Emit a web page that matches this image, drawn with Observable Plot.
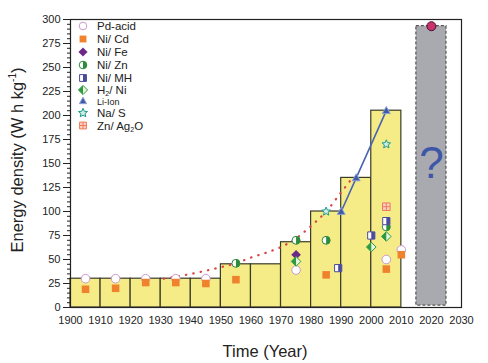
<!DOCTYPE html>
<html>
<head>
<meta charset="utf-8">
<script src="https://cdn.jsdelivr.net/npm/d3@7"></script>
<script src="https://cdn.jsdelivr.net/npm/@observablehq/plot@0.6"></script>
<style>
  html, body { margin: 0; padding: 0; background: #fff; }
  #chart { position: relative; width: 488px; height: 363px; font-family: "Liberation Sans", Arial, sans-serif; }
</style>
</head>
<body>
<div id="chart"></div>
<script>
// ---- data ----
const barStart = [1900, 1910, 1920, 1930, 1940, 1950, 1960, 1970, 1980, 1990, 2000];
const barEnergy = [30, 30, 30, 30, 30, 45, 45, 68, 100, 135, 205];
const futureStart = 2015, futureEnd = 2025, futureEnergy = 293;
const futurePoint = [[2020, 293]];
const questionMark = [[2020, 150, "?"]];

const pdAcid = [[1905,30],[1915,30],[1925,30],[1935,30],[1945,30],[1975,39],[2005,50],[2010,60]];
const niCd   = [[1905,19],[1915,20],[1925,26],[1935,26],[1945,25],[1955,29],[1985,34],[2005,40],[2010,55]];
const niFe   = [[1975,55]];
const niZn   = [[1955,46],[1975,70],[1985,70],[2005,84]];
const niMH   = [[1989,41],[2000,75],[2005,90]];
const h2Ni   = [[1975,48],[2000,63],[2005,74]];
const liIon  = [[1990,100],[1995,135],[2005,205]];
const naS    = [[1985,100],[2005,170]];
const znAg2O = [[2005,105]];
const trend  = [[1931,30],[1940,35],[1950,42],[1955,46],[1960,52],[1965,57],[1970,63],[1975,72],[1980,85],[1985,100],[1990,120],[1993,132]];

const xTicks = d3.range(1900, 2031, 10);
const yTicks = d3.range(0, 301, 25);
const yMinor = d3.range(0, 301, 5);

// ---- custom symbols ----
const halfCircleRight = {draw(c, size){const r=Math.sqrt(size/Math.PI); c.moveTo(0,-r); c.arc(0,0,r,-Math.PI/2,Math.PI/2); c.closePath();}};
const squareSym = {draw(c, size){const s=Math.sqrt(size/Math.PI)*0.9; c.rect(-s,-s,2*s,2*s);}};
const halfSquareRight = {draw(c, size){const s=Math.sqrt(size/Math.PI)*0.9; c.rect(0,-s,s,2*s);}};
const diamondFull = {draw(c, size){const r=Math.sqrt(size/Math.PI)*1.2; c.moveTo(0,-r); c.lineTo(r,0); c.lineTo(0,r); c.lineTo(-r,0); c.closePath();}};
const halfDiamondLeft = {draw(c, size){const r=Math.sqrt(size/Math.PI)*1.2; c.moveTo(0,-r); c.lineTo(-r,0); c.lineTo(0,r); c.closePath();}};
const crossSquare = {draw(c, size){const s=Math.sqrt(size/Math.PI)*0.9; c.rect(-s,-s,2*s,2*s); c.moveTo(-s,0); c.lineTo(s,0); c.moveTo(0,-s); c.lineTo(0,s);}};
const triSym = {draw(c, size){const r=Math.sqrt(size/Math.PI)*1.15; c.moveTo(0,-r); c.lineTo(r*0.95,r*0.7); c.lineTo(-r*0.95,r*0.7); c.closePath();}};
const starSym = {draw(c, size){const R=Math.sqrt(size/Math.PI)*1.25, r=R*0.45; for(let k=0;k<10;k++){const a=-Math.PI/2+k*Math.PI/5, rr=k%2?r:R; const px=rr*Math.cos(a), py=rr*Math.sin(a); if(k) c.lineTo(px,py); else c.moveTo(px,py);} c.closePath();}};

const C = {
  pd: "#c99ac9", cd: "#f0822e", fe: "#6b2a86", zn: "#2e8b3c", mh: "#4b4b9e",
  h2: "#2e9a3e", li: "#3f5aa8", na: "#1e9a8a", ag: "#ee7a5a", bar: "#f5ec88"
};

const bars = barStart.map((s, i) => ({x1: s, x2: s + 10, y: barEnergy[i]}));
const pts = a => a.map(([x, y]) => ({x, y}));

const dots = (data, sym, fill, stroke, r, extra={}) => Plot.dot(pts(data), {x: "x", y: "y", symbol: sym, fill, stroke, r, strokeWidth: 1, ...extra});

const plot = Plot.plot({
  width: 488, height: 363,
  marginLeft: 70, marginRight: 27, marginTop: 19, marginBottom: 56,
  style: {fontFamily: "Liberation Sans, Arial, sans-serif", fontSize: "11px", background: "#fff", color: "#222"},
  x: {type: "linear", domain: [1900, 2030]},
  y: {domain: [0, 300]},
  marks: [
    Plot.rect(bars, {x1: "x1", x2: "x2", y1: 0, y2: "y", fill: C.bar, stroke: "#3b3b2a", strokeWidth: 1.2}),
    Plot.rect([{x1: futureStart, x2: futureEnd, y: futureEnergy}], {x1: "x1", x2: "x2", y1: 2, y2: "y", fill: "#a9a9b0", stroke: "#555", strokeWidth: 1.2, strokeDasharray: "3,2"}),
    Plot.text(questionMark.map(([x, y, t]) => ({x, y, t})), {x: "x", y: "y", text: "t", fontSize: 44, fill: "#3d56a8", fontFamily: "Liberation Sans, Arial, sans-serif"}),
    Plot.line(pts(trend), {x: "x", y: "y", curve: "monotone-x", stroke: "#d84545", strokeWidth: 2.2, strokeDasharray: "0.5,7", strokeLinecap: "round"}),
    Plot.line(pts(liIon), {x: "x", y: "y", stroke: "#4a64b2", strokeWidth: 1.6}),
    dots(pdAcid, "circle", "#fff", C.pd, 4.3),
    dots(niCd, squareSym, C.cd, "none", 4.2),
    dots(niFe, diamondFull, C.fe, "none", 4),
    dots(niZn, "circle", "#fff", C.zn, 4),
    dots(niZn, halfCircleRight, C.zn, "none", 4),
    dots(niMH, squareSym, "#fff", C.mh, 4),
    dots(niMH, halfSquareRight, C.mh, "none", 4),
    dots(h2Ni, diamondFull, "#e9f5e0", C.h2, 4),
    dots(h2Ni, halfDiamondLeft, C.h2, "none", 4),
    dots(liIon, triSym, C.li, "#8aa0d8", 3.6),
    dots(naS, starSym, "#cdeee6", C.na, 3.6),
    dots(znAg2O, crossSquare, "#fbd0c0", C.ag, 4.2),
    dots(futurePoint, "circle", "#c8336e", "#4a1030", 4.5),
    Plot.axisY({ticks: yMinor, tickSize: 3, tickFormat: () => "", label: null}),
    Plot.axisY({ticks: yTicks, tickSize: 7, tickPadding: 3, label: null, fontSize: 11}),
    Plot.axisX({ticks: xTicks, tickSize: 0, tickPadding: 9, tickFormat: d => String(d), label: null, fontSize: 11}),
    Plot.frame({stroke: "#222", strokeWidth: 1.2})
  ]
});

document.getElementById("chart").appendChild(plot);

// ---- titles and legend ----
const svg = d3.select(plot);
const font = "Liberation Sans, Arial, sans-serif";

const ylab = svg.append("text")
  .attr("transform", "translate(23,160) rotate(-90)")
  .attr("text-anchor", "middle")
  .attr("font-family", font).attr("font-size", 16.5).attr("fill", "#222");
ylab.append("tspan").text("Energy density (W h kg");
ylab.append("tspan").attr("font-size", 10).attr("dy", -7).text("-1");
ylab.append("tspan").attr("dy", 7).text(")");

svg.append("text")
  .attr("x", 265).attr("y", 357)
  .attr("text-anchor", "middle")
  .attr("font-family", font).attr("font-size", 16.5).attr("fill", "#222")
  .text("Time (Year)");

const legendItems = [
  {parts: [["Pd-acid"]], sym: [["circle", "#fff", C.pd]]},
  {parts: [["Ni/ Cd"]], sym: [[squareSym, C.cd, "none"]]},
  {parts: [["Ni/ Fe"]], sym: [[diamondFull, C.fe, "none"]]},
  {parts: [["Ni/ Zn"]], sym: [["circle", "#fff", C.zn], [halfCircleRight, C.zn, "none"]]},
  {parts: [["Ni/ MH"]], sym: [[squareSym, "#fff", C.mh], [halfSquareRight, C.mh, "none"]]},
  {parts: [["H"], ["2", "sub"], ["/ Ni", "after"]], sym: [[diamondFull, "#e9f5e0", C.h2], [halfDiamondLeft, C.h2, "none"]]},
  {parts: [["Li-Ion"]], sym: [[triSym, C.li, "#8aa0d8"]], small: true},
  {parts: [["Na/ S"]], sym: [[starSym, "#cdeee6", C.na]]},
  {parts: [["Zn/ Ag"], ["2", "sub"], ["O", "after"]], sym: [[crossSquare, "#fbd0c0", C.ag]]}
];
const legendY = [26, 39, 52, 65, 78, 90, 101, 113, 125.5];
const symMap = {circle: d3.symbolCircle};
const lg = svg.append("g").attr("text-anchor", "start");
legendItems.forEach((it, i) => {
  const y = legendY[i];
  it.sym.forEach(([s, fill, stroke]) => {
    const type = typeof s === "string" ? symMap[s] : s;
    const r = it.small ? 3.3 : 3.8;
    lg.append("path")
      .attr("transform", `translate(83,${y})`)
      .attr("d", d3.symbol(type, Math.PI * r * r)())
      .attr("fill", fill).attr("stroke", stroke).attr("stroke-width", 1);
  });
  const t = lg.append("text")
    .attr("x", 97).attr("y", y + 4)
    .attr("text-anchor", "start")
    .attr("font-family", font).attr("font-size", it.small ? 9 : 11.5).attr("fill", "#222");
  it.parts.forEach(([txt, kind]) => {
    const sp = t.append("tspan").text(txt);
    if (kind === "sub") sp.attr("font-size", 7).attr("dy", 2);
    else if (kind === "after") sp.attr("dy", -2);
  });
});
</script>
</body>
</html>
